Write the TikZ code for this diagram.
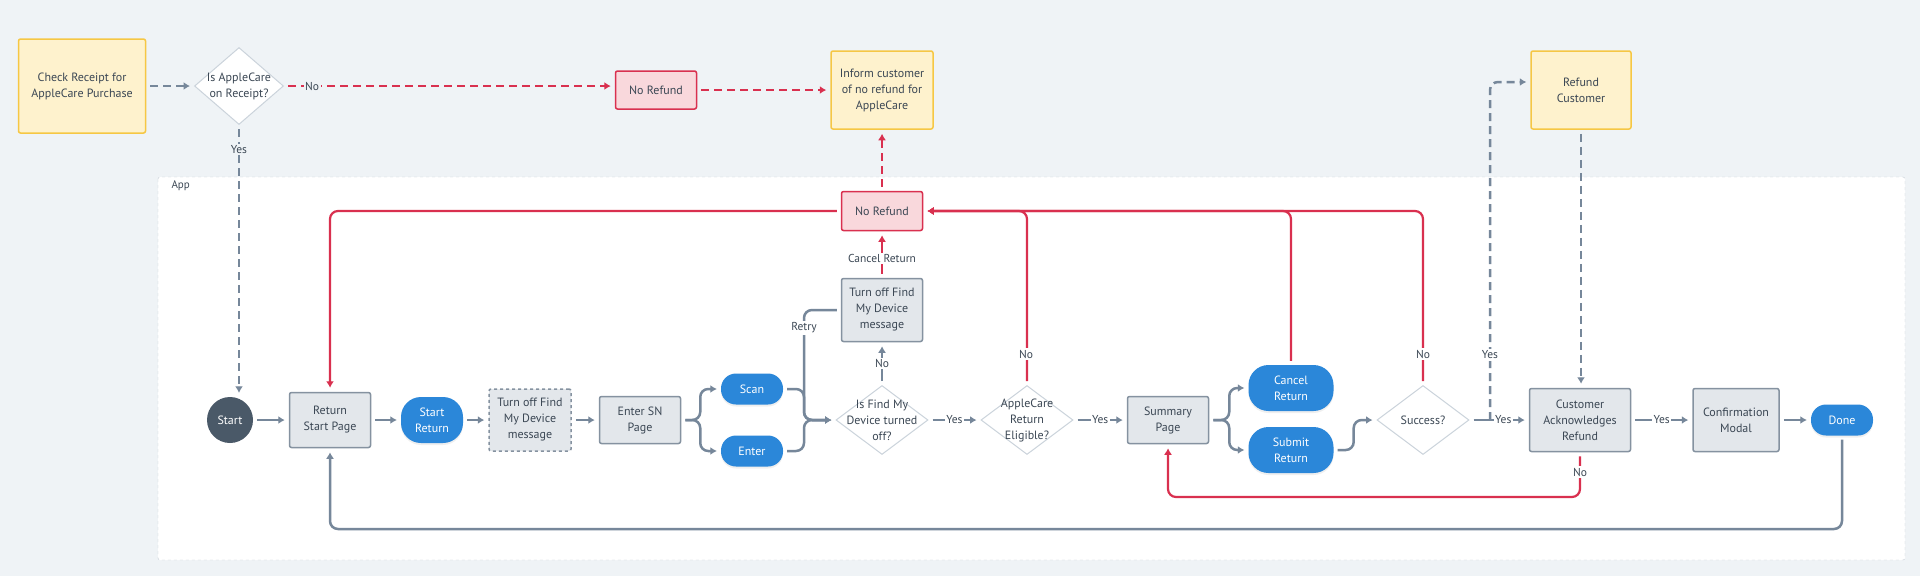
\documentclass[tikz,border=0pt]{standalone}
\usepackage{fontspec}
\setmainfont{PT Sans}
\usetikzlibrary{positioning, arrows.meta, shapes.geometric, shadows}

\definecolor{pagebg}{HTML}{EFF3F6}
\definecolor{txt}{HTML}{3B4754}
\definecolor{lnk}{HTML}{76879A}
\definecolor{redlnk}{HTML}{D9304F}
\definecolor{yelfill}{HTML}{FEF2CD}
\definecolor{yeldraw}{HTML}{F6C744}
\definecolor{redfill}{HTML}{F9D8DC}
\definecolor{grayfill}{HTML}{E3E7EB}
\definecolor{graydraw}{HTML}{8592A0}
\definecolor{pillblue}{HTML}{2B87D9}
\definecolor{startfill}{HTML}{4A5968}
\definecolor{diadraw}{HTML}{CBD3DB}
\definecolor{framedraw}{HTML}{C5CDD5}

\tikzset{
  every node/.style={font=\fontsize{12}{16}\selectfont, text=txt, align=center},
  stepbox/.style={draw=graydraw, fill=grayfill, line width=1.5pt, rounded corners=2pt,
    minimum width=81pt, minimum height=47pt, inner sep=2pt},
  notebox/.style={draw=yeldraw, fill=yelfill, line width=1.5pt, rounded corners=2pt, inner sep=2pt},
  stopbox/.style={draw=redlnk, fill=redfill, line width=1.5pt, rounded corners=2pt,
    minimum width=81pt, minimum height=39pt, inner sep=2pt},
  pill/.style={fill=pillblue, text=white, rounded corners=#1, inner sep=1pt,
    drop shadow={opacity=0.12, shadow xshift=0pt, shadow yshift=-2pt}},
  pill/.default=15pt,
  decision/.style={diamond, draw=diadraw, fill=white, line width=1pt,
    minimum width=92pt, minimum height=69pt, inner sep=0pt},
  conn/.style={draw=lnk, line width=2.5pt, shorten <=4pt, shorten >=4pt,
    -{Latex[length=6.5pt,width=8pt]}},
  redconn/.style={conn, draw=redlnk, line width=2.2pt},
  dashline/.style={dash pattern=on 8pt off 5pt},
  lbl/.style={fill=white, inner sep=1.5pt, font=\fontsize{11.5}{14}\selectfont}
}

\begin{document}
\begin{tikzpicture}[x=1pt, y=-1pt]
  \fill[pagebg] (0,0) rectangle (1920,576);
  \useasboundingbox (0,0) rectangle (1920,576);

  % App frame
  \draw[framedraw, dashed, fill=white, rounded corners=2pt] (158,177) rectangle (1905,560);
  \node[anchor=west, font=\fontsize{11}{13}\selectfont] (applbl) at (168,186) {App};

  % top row
  \node[notebox, minimum width=127pt, minimum height=94pt] (chk) at (82,86) {Check Receipt for\\AppleCare Purchase};
  \node[decision, minimum width=89pt, minimum height=77pt, label={center:{Is AppleCare\\on Receipt?}}] (dia1) at (239,86) {};
  \node[stopbox, minimum height=38pt] (nr1) at (656,90) {No Refund};
  \node[notebox, minimum width=102pt, minimum height=78pt] (inf) at (882,90) {Inform customer\\of no refund for\\AppleCare};
  \node[notebox, minimum width=100pt, minimum height=78pt] (rfc) at (1581,90) {Refund\\Customer};

  % main row
  \node[circle, fill=startfill, text=white, minimum size=46pt, inner sep=0pt] (start) at (230,420) {Start};
  \node[stepbox, minimum height=55pt] (rsp) at (330,420) {Return\\Start Page};
  \node[pill=20pt, minimum width=62pt, minimum height=46pt] (sr) at (432,420) {Start\\Return};
  \node[stepbox, dashed, minimum width=82pt, minimum height=62pt] (tf1) at (530,420) {Turn off Find\\My Device\\message};
  \node[stepbox] (esn) at (640,420) {Enter SN\\Page};
  \node[pill, minimum width=62pt, minimum height=31pt] (scan) at (752,389) {Scan};
  \node[pill, minimum width=62pt, minimum height=31pt] (ent) at (752,451) {Enter};
  \node[decision, label={center:{Is Find My\\Device turned\\off?}}] (dia2) at (882,420) {};
  \node[stepbox, minimum height=63pt] (tf2) at (882,310) {Turn off Find\\My Device\\message};
  \node[stopbox] (nr2) at (882,211) {No Refund};
  \node[decision, label={center:{AppleCare\\Return\\Eligible?}}] (dia3) at (1027,420) {};
  \node[stepbox] (sum) at (1168,420) {Summary\\Page};
  \node[pill=20pt, minimum width=85pt, minimum height=46pt] (cr) at (1291,388) {Cancel\\Return};
  \node[pill=20pt, minimum width=85pt, minimum height=46pt] (sbr) at (1291,450) {Submit\\Return};
  \node[decision, label={center:{Success?}}] (suc) at (1423,420) {};
  \node[stepbox, minimum width=101pt, minimum height=63pt] (car) at (1580,420) {Customer\\Acknowledges\\Refund};
  \node[stepbox, minimum width=86pt, minimum height=63pt] (cm) at (1736,420) {Confirmation\\Modal};
  \node[pill, minimum width=62pt, minimum height=31pt] (done) at (1842,420) {Done};

  \coordinate (rm) at (804,420);
  \coordinate (ysplit) at (1490,420);
  \coordinate (botl) at (330,529);
  \coordinate (botr) at (1168,497);

  % top connectors
  \draw[conn, dashline] (chk) -- (dia1);
  \draw[redconn, dashline] (dia1.east) -- (dia1.east -| nr1.west)
    node[lbl, fill=pagebg, pos=0.085] (lno0) {No};
  \draw[redconn, dashline] (nr1) -- (inf);
  \draw[redconn, dashline] (nr2) -- (inf);
  \draw[conn, dashline] (dia1.south) -- (dia1.south |- start.north)
    node[lbl, fill=pagebg, pos=0.09] (lyes0) {Yes};

  % main flow
  \draw[conn] (start) -- (rsp);
  \draw[conn] (rsp) -- (sr);
  \draw[conn] (sr) -- (tf1);
  \draw[conn] (tf1) -- (esn);
  \draw[conn, rounded corners=8pt] (esn.east) -- ++(19,0) |- (scan.west);
  \draw[conn, rounded corners=8pt] (esn.east) -- ++(19,0) |- (ent.west);
  \draw[conn, rounded corners=8pt] (scan.east) -| (rm) -- (dia2.west);
  \draw[conn, rounded corners=8pt] (ent.east) -| (rm) -- (dia2.west);
  \draw[conn, rounded corners=8pt] (tf2.west) -| (rm) -- (dia2.west);
  \node[lbl] (lretry) at (804,328) {Retry};
  \draw[conn] (dia2) -- (tf2) node[lbl, pos=0.5] (lno1) {No};
  \draw[redconn] (tf2) -- (nr2) node[lbl, pos=0.42] (lcancel) {Cancel Return};
  \draw[conn] (dia2) -- (dia3) node[lbl, pos=0.5] (lyes1) {Yes};
  \draw[conn] (dia3) -- (sum) node[lbl, pos=0.5] (lyes2) {Yes};
  \draw[redconn, rounded corners=8pt] (dia3.north) |- (nr2.east);
  \draw[redconn, rounded corners=8pt] (cr.north) |- (nr2.east);
  \draw[redconn, rounded corners=8pt] (suc.north) |- (nr2.east);
  \draw[redconn, rounded corners=8pt] (nr2.west) -| (rsp.north);
  \node[lbl] (lno2) at (1026,354) {No};
  \node[lbl] (lno3) at (1423,354) {No};
  \draw[conn, rounded corners=8pt] (sum.east) -- ++(20,0) |- (cr.west);
  \draw[conn, rounded corners=8pt] (sum.east) -- ++(20,0) |- (sbr.west);
  \draw[conn, rounded corners=8pt] (sbr.east) -- ++(20,0) |- (suc.west);
  \draw[conn] (suc) -- (car) node[lbl, pos=0.57] (lyes3) {Yes};
  \draw[conn, dashline, shorten <=0pt, rounded corners=8pt] (ysplit) |- ([yshift=8pt]rfc.west);
  \node[lbl] (lyes4) at (1490,355) {Yes};
  \draw[conn, dashline] (rfc.south) -- (rfc.south |- car.north);
  \draw[conn] (car) -- (cm) node[lbl, pos=0.5] (lyes5) {Yes};
  \draw[conn] (cm) -- (done);
  \draw[conn, rounded corners=8pt] (done.south) |- (botl) -- (rsp.south);
  \draw[redconn, rounded corners=8pt] (car.south) |- (botr) -- (sum.south);
  \node[lbl] (lno4) at (1580,472) {No};
\end{tikzpicture}
\end{document}
